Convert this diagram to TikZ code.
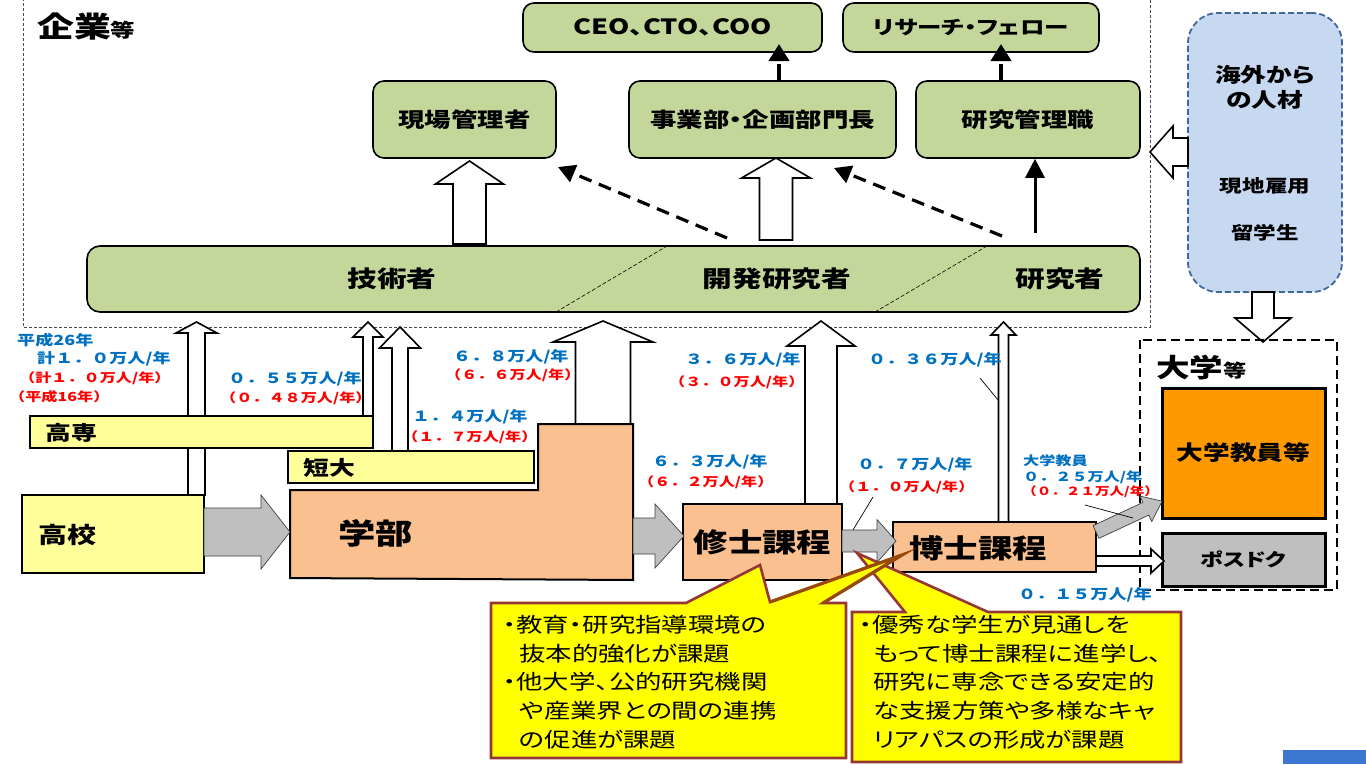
\documentclass[tikz,border=0pt]{standalone}
\usepackage{fontspec}
\setmainfont{Noto Sans CJK JP}[FakeStretch=1.29, RawFeature=+palt]
\newfontfamily\lblfont{Noto Sans CJK JP}[FakeStretch=1.29]
\usetikzlibrary{arrows.meta,calc}
\definecolor{gbox}{HTML}{C4D79B}
\definecolor{ybox}{HTML}{FFFF99}
\definecolor{pbox}{HTML}{FAC090}
\definecolor{garr}{HTML}{BFBFBF}
\definecolor{obox}{HTML}{FF9900}
\definecolor{kfill}{HTML}{C6D9F1}
\definecolor{kdraw}{HTML}{41689A}
\definecolor{cyel}{HTML}{FFFF00}
\definecolor{cbrd}{HTML}{953735}
\definecolor{cbrn}{HTML}{984807}
\definecolor{tblue}{HTML}{0070C0}
\definecolor{tred}{HTML}{FF0000}
\definecolor{cornerblue}{HTML}{3C78D2}
\newcommand{\fsz}[1]{\fontsize{#1}{#1}\selectfont}
% vertical block arrow: x, ystart, ytip, shaft half, head half, head length, style
\newcommand{\blkarr}[7]{\draw[#7] ({#1-#4},{#2}) -- ({#1-#4},{#3+#6}) -- ({#1-#5},{#3+#6}) -- ({#1},{#3}) -- ({#1+#5},{#3+#6}) -- ({#1+#4},{#3+#6}) -- ({#1+#4},{#2}) -- cycle;}
% horizontal block arrow: y, xstart, xtip, shaft half, head half, head length, style
\newcommand{\blkarrh}[7]{\draw[#7] ({#2},{#1-#4}) -- ({#3-#6},{#1-#4}) -- ({#3-#6},{#1-#5}) -- ({#3},{#1}) -- ({#3-#6},{#1+#5}) -- ({#3-#6},{#1+#4}) -- ({#2},{#1+#4}) -- cycle;}
\begin{document}
\begin{tikzpicture}[x=1pt,y=-1pt,
  greenbox/.style={draw=black, line width=1.6pt, rounded corners=11pt, fill=gbox, inner sep=0pt, font=\bfseries\fsz{20.5}},
  harr/.style={draw=black, line width=1.6pt, fill=white, line join=miter},
  gar/.style={draw=black!75, line width=0.7pt, fill=garr, line join=miter},
  ybx/.style={draw=black, line width=2pt, fill=ybox, inner sep=0pt},
  pbx/.style={draw=black, line width=2pt, fill=pbox, inner sep=0pt, font=\bfseries\fsz{26.7}},
  txt/.style={inner sep=0pt, font=\bfseries\fsz{20}},
  bl/.style={anchor=west, inner sep=0pt, text=tblue, font=\lblfont\bfseries\fsz{14}},
  rd/.style={anchor=west, inner sep=0pt, text=tred, font=\lblfont\bfseries\fsz{12.5}},
  dasharr/.style={line width=3.2pt, dash pattern=on 13pt off 8pt, -{Triangle[length=17pt,width=18pt]}},
  shortarr/.style={line width=4pt, dash pattern=on 16pt off 40pt, -{Triangle[length=17pt,width=20pt]}},
  callout/.style={fill=cyel, draw=cbrd, line width=2.6pt, line join=miter},
  callouttext/.style={anchor=north west, inner sep=0pt, align=left, font=\fontsize{20.5}{28.7}\selectfont},
  leader/.style={line width=0.7pt, draw=black}
]
\useasboundingbox (0,0) rectangle (1366,764);
\fill[white] (0,0) rectangle (1366,764);

% ===== company frame =====
\draw[black!70, line width=0.8pt, dash pattern=on 3pt off 2pt] (23,-2) -- (23,327) -- (1150,327) -- (1150,-2);
\node[anchor=west, inner sep=0pt, font=\bfseries] (kigyo) at (37,27) {\fsz{28.6}企業\fsz{19}等};

% ===== green boxes =====
\node[greenbox, minimum width=299, minimum height=49, font=\bfseries\fsz{21}] (ceo) at (672.5,27.5) {CEO、CTO、COO};
\node[greenbox, minimum width=256, minimum height=49, font=\bfseries\fsz{19}] (fellow) at (971,27.5) {リサーチ・フェロー};
\node[greenbox, minimum width=183, minimum height=77] (genba) at (464.5,119.5) {現場管理者};
\node[greenbox, minimum width=267, minimum height=77] (jigyo) at (762.5,119.5) {事業部・企画部門長};
\node[greenbox, minimum width=224, minimum height=77] (kanri) at (1028,119.5) {研究管理職};
\node[greenbox, minimum width=1053, minimum height=66, rounded corners=13pt] (bar) at (613.5,279) {};
\draw[black, line width=0.6pt, dash pattern=on 4pt off 2pt] (556,312) -- (667,246);
\draw[black, line width=0.6pt, dash pattern=on 4pt off 2pt] (875,312) -- (987,246);
\node[txt, font=\bfseries\fsz{23}] (gijutsu) at (392,279) {技術者};
\node[txt, font=\bfseries\fsz{23}] (kaihatsu) at (777,279) {開発研究者};
\node[txt, font=\bfseries\fsz{23}] (kenkyu) at (1060,279) {研究者};

% company arrows
\blkarr{469.5}{244}{161}{16.5}{34}{23}{harr}
\blkarr{776}{240}{158}{16.5}{34.5}{20}{harr}
\coordinate (d1s) at (727,238);
\coordinate (d1e) at (558,167);
\coordinate (d2s) at (1002,236);
\coordinate (d2e) at (834,168);
\draw[dasharr] (d1s) -- (d1e);
\draw[dasharr] (d2s) -- (d2e);
\coordinate (s1) at (1035,233);
\draw[line width=3pt, -{Triangle[length=19pt,width=19pt]}] (s1) -- (s1 |- kanri.south);
\coordinate (ceoin) at (779,44);
\coordinate (felin) at (1001,44);
\draw[shortarr] (jigyo.north -| ceoin) -- (ceoin);
\draw[shortarr] (kanri.north -| felin) -- (felin);

% ===== overseas =====
\node[draw=kdraw, line width=1.8pt, dash pattern=on 6pt off 3pt, fill=kfill, rounded corners=30pt, minimum width=154, minimum height=279, inner sep=0pt] (kaigai) at (1265,152.5) {};
\node[inner sep=0pt, align=center, font=\bfseries\fontsize{20}{25}\selectfont] (kaigaitxt) at (1265,87) {海外から\\の人材};
\node[txt, font=\bfseries\fsz{17.5}] (genchi) at (1265,186) {現地雇用};
\node[txt, font=\bfseries\fsz{17.5}] (ryugaku) at (1265,233) {留学生};
\blkarrh{152}{1188}{1150}{14}{26}{(-23)}{harr}
\blkarr{1263}{292}{342}{11}{28}{(-24)}{harr}

% ===== university =====
\draw[black, line width=2.2pt, dash pattern=on 9pt off 5pt] (1140,340) rectangle (1337,590);
\node[anchor=west, inner sep=0pt, font=\bfseries] (daigaku) at (1156,368) {\fsz{26}大学\fsz{18}等};
\node[draw=black, line width=3pt, fill=obox, minimum width=163, minimum height=130, inner sep=0pt, font=\bfseries\fsz{20.7}] (kyoin) at (1243.5,453) {大学教員等};
\node[draw=black, line width=3pt, fill=garr, minimum width=163, minimum height=53, inner sep=0pt, font=\bfseries\fsz{18}] (posdoc) at (1243.5,559.5) {ポスドク};

% ===== upward hollow arrows (behind boxes) =====
\blkarr{196.5}{495}{322}{8.5}{20.5}{11}{harr}
\blkarr{368}{417}{322}{5}{15}{15}{harr}
\blkarr{400}{452}{327}{8}{20.5}{21}{harr}
\blkarr{603}{425}{321}{27.5}{50}{21}{harr}
\blkarr{821}{505}{321}{16}{34}{25}{harr}
\blkarr{1003.5}{523}{322}{5}{12.5}{13}{harr}

% ===== school boxes =====
\node[ybx, minimum width=343, minimum height=32] (kosen) at (201.5,432) {};
\node[anchor=west, txt] (kosentxt) at (45,433) {高専};
\node[ybx, minimum width=246, minimum height=32] (tandai) at (411,467) {};
\node[anchor=west, txt] (tandaitxt) at (303,468) {短大};
\node[ybx, minimum width=182, minimum height=78] (koko) at (113,534) {};
\node[anchor=west, txt, font=\bfseries\fsz{22.5}] (kokotxt) at (38,535) {高校};
\draw[black, line width=2pt, fill=pbox, line join=miter] (290,490) -- (538,490) -- (538,424) -- (633,424) -- (633,580) -- (290,578) -- cycle;
\node[anchor=west, txt, font=\bfseries\fsz{29}] (gakubu) at (338,533) {学部};
\node[pbx, minimum width=159, minimum height=76] (shushi) at (762.5,542) {修士課程};
\node[pbx, minimum width=203, minimum height=50] (hakushi) at (994.5,547) {};
\node[txt, font=\bfseries\fsz{26.7}] (hakushitxt) at (978,548) {博士課程};

% gray arrows
\blkarrh{532}{204}{290}{24}{37}{29}{gar}
\blkarrh{536}{633}{684}{18}{32}{29}{gar}
\blkarrh{541}{842}{896}{11}{21.5}{19}{gar}
\begin{scope}[shift={(1096,532)}, rotate=25]
\draw[gar] (0,-7) -- (55,-7) -- (55,-14) -- (73,0) -- (55,14) -- (55,7) -- (0,7) -- cycle;
\end{scope}
\blkarrh{561}{1096}{1164}{5}{12}{13}{harr}

% ===== labels =====
\node[bl] (b1) at (17,340) {平成26年};
\node[bl] (b2) at (37,359) {計１．０万人/年};
\node[rd] (r1) at (19,378) {（計１．０万人/年）};
\node[rd] (r2) at (9,397) {（平成16年）};
\node[bl] (b3) at (228,379) {０．５５万人/年};
\node[rd] (r3) at (220,398) {（０．４８万人/年）};
\node[bl] (b4) at (453,357) {６．８万人/年};
\node[rd] (r4) at (445,375) {（６．６万人/年）};
\node[bl] (b5) at (412,417) {１．４万人/年};
\node[rd] (r5) at (402,437) {（１．７万人/年）};
\node[bl] (b6) at (685,360) {３．６万人/年};
\node[rd] (r6) at (669,382) {（３．０万人/年）};
\node[bl] (b7) at (868,360) {０．３６万人/年};
\node[bl] (b8) at (652,462) {６．３万人/年};
\node[rd] (r8) at (638,482) {（６．２万人/年）};
\node[bl] (b9) at (857,465) {０．７万人/年};
\node[rd] (r9) at (839,487) {（１．０万人/年）};
\node[bl, font=\lblfont\bfseries\fsz{12.5}] (b10) at (1023,461) {大学教員};
\node[bl, font=\lblfont\bfseries\fsz{12.5}] (b11) at (1023,477) {０．２５万人/年};
\node[rd, font=\lblfont\bfseries\fsz{11.3}] (r11) at (1022,492) {（０．２１万人/年）};
\node[bl] (b12) at (1018,595) {０．１５万人/年};

% leader lines
\coordinate (la1) at (980,378); \coordinate (la2) at (998,400);
\draw[leader] (la1) -- (la2);
\coordinate (lb1) at (873,497); \coordinate (lb2) at (853,530);
\draw[leader] (lb1) -- (lb2);
\coordinate (lc1) at (1085,505); \coordinate (lc2) at (1133,518);
\draw[leader] (lc1) -- (lc2);

% ===== callouts =====
\draw[callout] (852,612) -- (905,612) -- (857,553) -- (988,612) -- (1181,612) -- (1181,762) -- (852,762) -- cycle;
\draw[callout] (491,603) -- (686,603) -- (760,565) -- (770,602) -- (902,555) -- (823,603) -- (846,603) -- (846,758) -- (491,758) -- cycle;
\draw[cbrn, line width=3.2pt, line join=miter] (770,602) -- (902,555) -- (823,603);
\node[callouttext] (c1) at (503,615)
  {・教育・研究指導環境の\\\hspace*{16pt}抜本的強化が課題\\・他大学、公的研究機関\\\hspace*{16pt}や産業界との間の連携\\\hspace*{16pt}の促進が課題};
\node[callouttext] (c2) at (859,615)
  {・優秀な学生が見通しを\\\hspace*{14pt}もって博士課程に進学し、\\\hspace*{14pt}研究に専念できる安定的\\\hspace*{14pt}な支援方策や多様なキャ\\\hspace*{14pt}リアパスの形成が課題};

\fill[cornerblue] (1283,750) rectangle (1366,764);
\end{tikzpicture}
\end{document}
